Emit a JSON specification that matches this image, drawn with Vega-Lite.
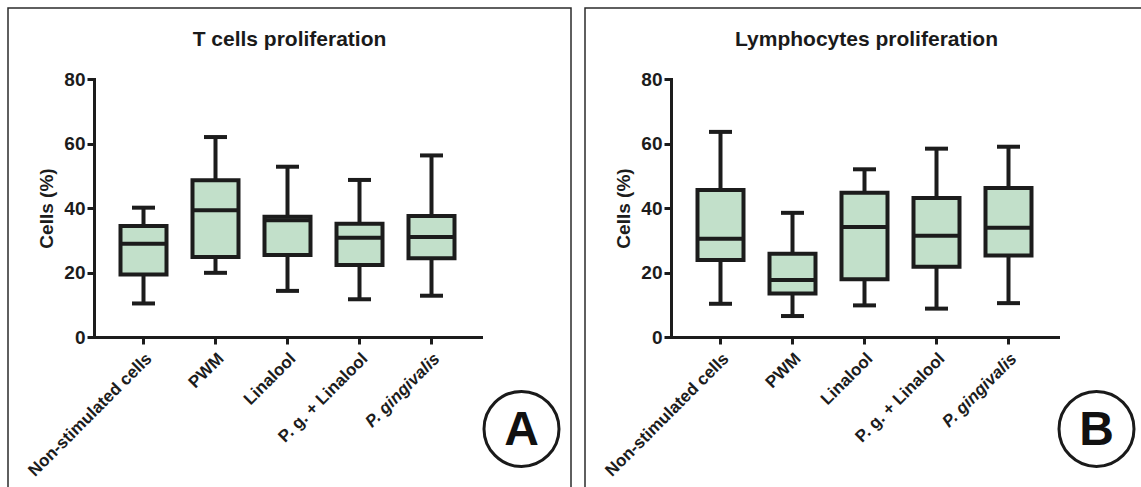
{
  "$schema": "https://vega.github.io/schema/vega-lite/v6.json",
  "padding": {"left": 7, "top": 7, "right": 0, "bottom": 0},
  "autosize": {"type": "pad"},
  "background": "white",
  "spacing": 12,
  "config": {
    "view": {"stroke": "#2b2b2b", "strokeWidth": 1.5},
    "font": "Liberation Sans",
    "axisY": {
      "grid": false, "domainColor": "#1c1c1c", "domainWidth": 3, "domainCap": "square",
      "tickColor": "#1c1c1c", "tickWidth": 3, "tickSize": 7, "labelFontSize": 19, "labelFontWeight": "bold",
      "labelColor": "#1c1c1c", "labelPadding": 2, "titleFontSize": 19, "titleFontWeight": "bold", "titleColor": "#1c1c1c",
      "titlePadding": 7, "offset": -86
    },
    "axisX": {
      "title": null, "labelAngle": -45, "labelFontSize": 17, "labelFontWeight": "bold", "labelColor": "#1c1c1c",
      "labelPadding": 6, "tickSize": 7, "tickWidth": 3, "tickColor": "#1c1c1c", "domainWidth": 3, "domainColor": "#1c1c1c",
      "domainCap": "square", "offset": -153, "labelLimit": 300,
      "labelFontStyle": {"expr": "datum.value === 'P. gingivalis' ? 'italic' : 'normal'"}
    }
  },
  "datasets": {
    "boxes": [
      {"panel": "A", "group": "Non-stimulated cells", "min": 10.4, "q1": 19.4, "median": 28.9, "q3": 34.4, "max": 40.1},
      {"panel": "A", "group": "PWM", "min": 19.9, "q1": 24.8, "median": 39.3, "q3": 48.6, "max": 62.0},
      {"panel": "A", "group": "Linalool", "min": 14.3, "q1": 25.4, "median": 36.2, "q3": 37.3, "max": 52.8},
      {"panel": "A", "group": "P. g. + Linalool", "min": 11.7, "q1": 22.3, "median": 30.8, "q3": 35.1, "max": 48.7},
      {"panel": "A", "group": "P. gingivalis", "min": 12.8, "q1": 24.4, "median": 31.0, "q3": 37.5, "max": 56.3},
      {"panel": "B", "group": "Non-stimulated cells", "min": 10.3, "q1": 23.9, "median": 30.5, "q3": 45.6, "max": 63.6},
      {"panel": "B", "group": "PWM", "min": 6.5, "q1": 13.5, "median": 17.7, "q3": 25.8, "max": 38.5},
      {"panel": "B", "group": "Linalool", "min": 9.8, "q1": 17.9, "median": 34.1, "q3": 44.7, "max": 52.0},
      {"panel": "B", "group": "P. g. + Linalool", "min": 8.8, "q1": 21.8, "median": 31.4, "q3": 43.1, "max": 58.4},
      {"panel": "B", "group": "P. gingivalis", "min": 10.5, "q1": 25.3, "median": 33.9, "q3": 46.2, "max": 59.0}
    ]
  },
  "hconcat": [
    {
      "width": 563, "height": 482,
      "title": {"text": "T cells proliferation", "offset": -42, "fontSize": 21, "fontWeight": "bold", "font": "Liberation Sans", "anchor": "middle", "frame": "group", "color": "#1a1a1a"},
      "data": {"name": "boxes"},
      "transform": [{"filter": "datum.panel === 'A'"}],
      "encoding": {
        "x": {"field": "group", "type": "nominal", "sort": null,
          "scale": {"domain": ["Non-stimulated cells", "PWM", "Linalool", "P. g. + Linalool", "P. gingivalis"], "range": [86, 473], "paddingInner": 0, "paddingOuter": 0.1875}}
      },
      "layer": [
        {"mark": {"type": "rule", "strokeWidth": 4, "color": "#1c1c1c"},
         "encoding": {"y": {"field": "min", "type": "quantitative", "title": "Cells (%)", "scale": {"domain": [0, 80], "range": [329, 71]}, "axis": {"values": [0, 20, 40, 60, 80]}}, "y2": {"field": "max"}}},
        {"mark": {"type": "tick", "size": 23, "thickness": 4, "color": "#1c1c1c", "opacity": 1},
         "encoding": {"y": {"field": "min", "type": "quantitative", "title": "Cells (%)"}}},
        {"mark": {"type": "tick", "size": 23, "thickness": 4, "color": "#1c1c1c", "opacity": 1},
         "encoding": {"y": {"field": "max", "type": "quantitative", "title": "Cells (%)"}}},
        {"mark": {"type": "bar", "width": 46, "fill": "#c2e0ca", "stroke": "#1c1c1c", "strokeWidth": 4},
         "encoding": {"y": {"field": "q1", "type": "quantitative", "title": "Cells (%)"}, "y2": {"field": "q3"}}},
        {"mark": {"type": "tick", "size": 46, "thickness": 4, "color": "#1c1c1c", "opacity": 1},
         "encoding": {"y": {"field": "median", "type": "quantitative", "title": "Cells (%)"}}},
        {"transform": [{"filter": "datum.group === 'P. gingivalis'"}],
         "mark": {"type": "point", "shape": "circle", "size": 5625, "filled": false, "stroke": "#1a1a1a", "strokeWidth": 3, "opacity": 1},
         "encoding": {"y": {"datum": -28.5, "type": "quantitative"}, "xOffset": {"value": 126}}},
        {"transform": [{"filter": "datum.group === 'P. gingivalis'"}],
         "mark": {"type": "text", "text": "A", "fontSize": 48, "fontWeight": "bold", "font": "Liberation Sans", "dx": 90, "dy": 108, "baseline": "alphabetic", "align": "center", "color": "#111111"},
         "encoding": {"y": {"datum": 0, "type": "quantitative"}}}
      ]
    },
    {
      "width": 563, "height": 482,
      "title": {"text": "Lymphocytes proliferation", "offset": -42, "fontSize": 21, "fontWeight": "bold", "font": "Liberation Sans", "anchor": "middle", "frame": "group", "color": "#1a1a1a"},
      "data": {"name": "boxes"},
      "transform": [{"filter": "datum.panel === 'B'"}],
      "encoding": {
        "x": {"field": "group", "type": "nominal", "sort": null,
          "scale": {"domain": ["Non-stimulated cells", "PWM", "Linalool", "P. g. + Linalool", "P. gingivalis"], "range": [86, 473], "paddingInner": 0, "paddingOuter": 0.1875}}
      },
      "layer": [
        {"mark": {"type": "rule", "strokeWidth": 4, "color": "#1c1c1c"},
         "encoding": {"y": {"field": "min", "type": "quantitative", "title": "Cells (%)", "scale": {"domain": [0, 80], "range": [329, 71]}, "axis": {"values": [0, 20, 40, 60, 80]}}, "y2": {"field": "max"}}},
        {"mark": {"type": "tick", "size": 23, "thickness": 4, "color": "#1c1c1c", "opacity": 1},
         "encoding": {"y": {"field": "min", "type": "quantitative", "title": "Cells (%)"}}},
        {"mark": {"type": "tick", "size": 23, "thickness": 4, "color": "#1c1c1c", "opacity": 1},
         "encoding": {"y": {"field": "max", "type": "quantitative", "title": "Cells (%)"}}},
        {"mark": {"type": "bar", "width": 46, "fill": "#c2e0ca", "stroke": "#1c1c1c", "strokeWidth": 4},
         "encoding": {"y": {"field": "q1", "type": "quantitative", "title": "Cells (%)"}, "y2": {"field": "q3"}}},
        {"mark": {"type": "tick", "size": 46, "thickness": 4, "color": "#1c1c1c", "opacity": 1},
         "encoding": {"y": {"field": "median", "type": "quantitative", "title": "Cells (%)"}}},
        {"transform": [{"filter": "datum.group === 'P. gingivalis'"}],
         "mark": {"type": "point", "shape": "circle", "size": 5625, "filled": false, "stroke": "#1a1a1a", "strokeWidth": 3, "opacity": 1},
         "encoding": {"y": {"datum": -28.5, "type": "quantitative"}, "xOffset": {"value": 124}}},
        {"transform": [{"filter": "datum.group === 'P. gingivalis'"}],
         "mark": {"type": "text", "text": "B", "fontSize": 48, "fontWeight": "bold", "font": "Liberation Sans", "dx": 88, "dy": 108, "baseline": "alphabetic", "align": "center", "color": "#111111"},
         "encoding": {"y": {"datum": 0, "type": "quantitative"}}}
      ]
    }
  ]
}
